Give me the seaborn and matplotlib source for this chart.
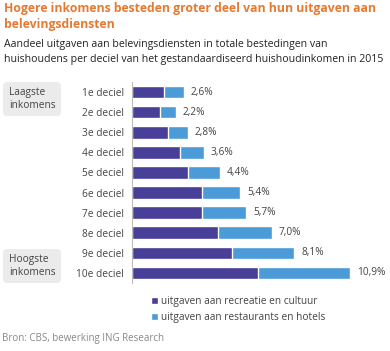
import matplotlib
matplotlib.use("Agg")
import matplotlib.pyplot as plt
import seaborn as sns
from matplotlib.patches import Patch, FancyBboxPatch

# data
deciles = ["1e deciel", "2e deciel", "3e deciel", "4e deciel", "5e deciel",
           "6e deciel", "7e deciel", "8e deciel", "9e deciel", "10e deciel"]
totals = [2.6, 2.2, 2.8, 3.6, 4.4, 5.4, 5.7, 7.0, 8.1, 10.9]
recreatie = [1.6, 1.4, 1.8, 2.4, 2.8, 3.5, 3.5, 4.3, 5.0, 6.3]
legend_labels = ["uitgaven aan recreatie en cultuur",
                 "uitgaven aan restaurants en hotels"]

dark = "#483F98"
light = "#4A9BD8"
orange = "#E67A32"
grey_txt = "#444444"

sns.set_theme(style="white")
plt.rcParams["font.family"] = ["Open Sans", "DejaVu Sans"]

fig = plt.figure(figsize=(3.9, 3.51), dpi=100)
ax = fig.add_axes([132 / 390, 68 / 351, 258 / 390, 201 / 351])

# stacked bars: total first, then the dark part on top
sns.barplot(x=totals, y=deciles, color=light, width=0.63, saturation=1, ax=ax)
sns.barplot(x=recreatie, y=deciles, color=dark, width=0.63, saturation=1, ax=ax)

for i, t in enumerate(totals):
    ax.text(t + 0.35, i, f"{t:.1f}%".replace(".", ","), va="center", ha="left",
            fontsize=7.3, color=grey_txt)

ax.set_xlim(0, 12.9)
ax.set_ylim(9.5, -0.5)
ax.set_xlabel("")
ax.set_ylabel("")
ax.set_xticks([])
ax.tick_params(axis="y", length=0, pad=6, labelsize=7.3, labelcolor=grey_txt)
for s in ["top", "right", "bottom"]:
    ax.spines[s].set_visible(False)
ax.spines["left"].set_color("#BBBBBB")
ax.spines["left"].set_linewidth(0.8)

# titles
fig.text(4 / 390, 1 - 2 / 351, "Hogere inkomens besteden groter deel van hun uitgaven aan\nbelevingsdiensten",
         fontsize=8.8, fontweight="bold", color=orange, va="top", ha="left", linespacing=1.3)
fig.text(4 / 390, 1 - 39 / 351, "Aandeel uitgaven aan belevingsdiensten in totale bestedingen van\nhuishoudens per deciel van het gestandaardiseerd huishoudinkomen in 2015",
         fontsize=7.6, color="#222222", va="top", ha="left", linespacing=1.5)

# callout boxes
for ytop, txt in [(80, "Laagste\ninkomens"), (247, "Hoogste\ninkomens")]:
    box = FancyBboxPatch((3 / 390, 1 - (ytop + 36) / 351), 58 / 390, 34 / 351,
                         boxstyle="round,pad=0,rounding_size=0.012",
                         transform=fig.transFigure, facecolor="#EBEBEB", edgecolor="none")
    fig.patches.append(box)
    fig.text(9 / 390, 1 - (ytop + 19) / 351, txt, fontsize=7.3, color=grey_txt,
             va="center", ha="left", linespacing=1.3)

handles = [Patch(facecolor=dark), Patch(facecolor=light)]
fig.legend(handles, legend_labels, loc="upper left", bbox_to_anchor=(146 / 390, 1 - 291 / 351),
           frameon=False, fontsize=7.3, handlelength=0.7, handleheight=0.7,
           handletextpad=0.3, labelspacing=0.45, borderpad=0, labelcolor=grey_txt)

fig.text(2 / 390, 1 - 338 / 351, "Bron: CBS, bewerking ING Research", fontsize=7,
         color="#888888", va="center", ha="left")

fig.savefig("out.png", dpi=100)
